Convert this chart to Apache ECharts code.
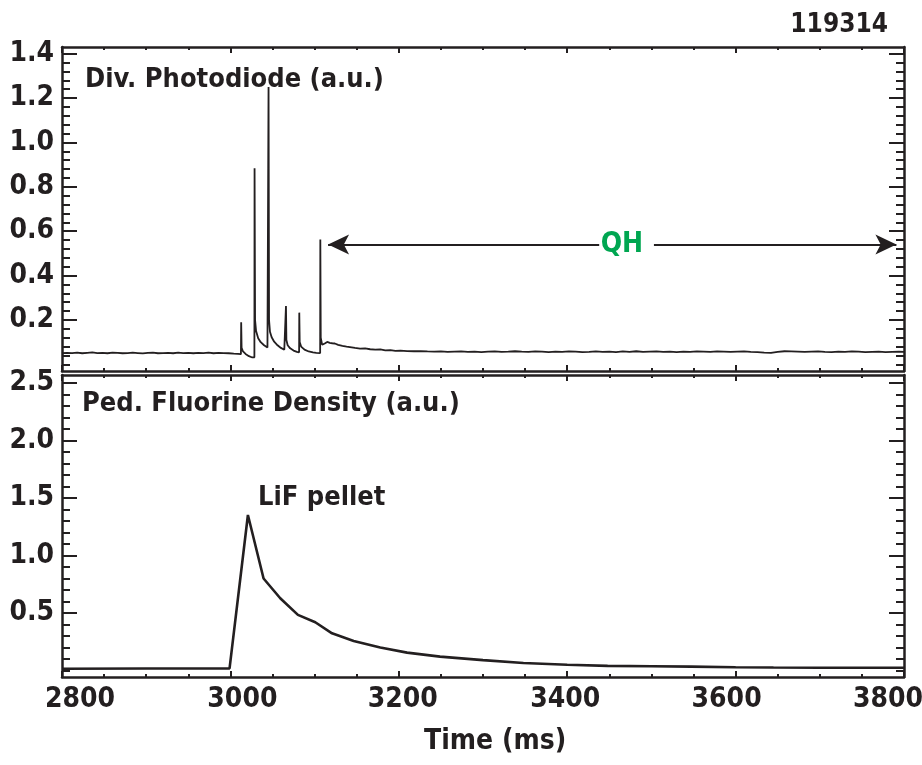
<!DOCTYPE html>
<html><head><meta charset="utf-8">
<script src="https://cdn.jsdelivr.net/npm/echarts@6/dist/echarts.min.js"></script>
<style>html,body{margin:0;padding:0;background:#fff}#c{width:922px;height:765px}</style>
</head><body><div id="c"></div>
<script>
const FONT = '"Liberation Sans Narrow","DejaVu Sans Condensed","Arial Narrow",sans-serif';
const INK = '#231f20';
const GREEN = '#00a651';

// ---- data ----
const xTicks = [2800, 3000, 3200, 3400, 3600, 3800];
const xTickLabelShift = [18, 12, 4, -2, -9, -16];   // label nudges as in the original figure
const topYTicks = [0.2, 0.4, 0.6, 0.8, 1.0, 1.2, 1.4];
const botYTicks = [0.5, 1.0, 1.5, 2.0, 2.5];
const shotNumber = '119314';
const topTitle = 'Div. Photodiode (a.u.)';
const botTitle = 'Ped. Fluorine Density (a.u.)';
const pelletLabel = 'LiF pellet';
const xTitle = 'Time (ms)';
const qhLabel = 'QH';

const photoTime = [
  2800,2806,2812,2818,2824,2830,2836,2842,2848,2854,2860,2866,2872,2878,2884,2890,2896,2902,2908,2914,
  2920,2926,2932,2938,2944,2950,2956,2962,2968,2974,2980,2986,2992,2998,3004,3009,3012.5,3012.8,3013.3,3015,
  3018,3022,3026,3028.5,3028.7,3029.3,3030.5,3033,3036,3040,3044,3045.1,3045.3,3045.9,3047,3049,3052,3056,3060,3064,
  3065.8,3066,3066.5,3068,3071,3075,3079,3081.6,3081.8,3082.3,3084,3088,3093,3098,3102,3106.6,3106.8,3107.3,3109,3112,
  3115,3118,3121,3124,3128,3133,3138,3142,3148,3154,3160,3166,3172,3178,3184,3190,3196,3202,3210,3218,
  3226,3234,3242,3250,3258,3266,3274,3282,3290,3298,3306,3314,3322,3330,3338,3346,3354,3362,3370,3378,
  3386,3394,3402,3410,3418,3426,3434,3442,3450,3458,3466,3474,3482,3490,3498,3506,3514,3522,3530,3538,
  3546,3554,3562,3570,3578,3586,3594,3602,3610,3618,3626,3634,3642,3650,3658,3666,3674,3682,3690,3698,
  3706,3714,3722,3730,3738,3746,3754,3762,3770,3778,3786,3794,3800
];
const photoValue = [
  0.050,0.052,0.051,0.053,0.050,0.052,0.054,0.051,0.052,0.050,0.053,0.052,0.050,0.051,0.053,0.051,0.049,0.052,0.053,0.050,
  0.051,0.052,0.050,0.053,0.051,0.052,0.050,0.052,0.051,0.053,0.050,0.052,0.051,0.050,0.048,0.047,0.046,0.190,0.075,0.058,
  0.047,0.037,0.031,0.032,0.884,0.200,0.150,0.118,0.100,0.086,0.076,0.073,1.250,0.200,0.147,0.122,0.102,0.086,0.074,0.066,
  0.062,0.263,0.110,0.086,0.072,0.062,0.056,0.054,0.233,0.100,0.080,0.066,0.058,0.054,0.052,0.051,0.563,0.120,0.088,0.094,
  0.101,0.097,0.095,0.094,0.088,0.083,0.080,0.078,0.074,0.071,0.072,0.068,0.066,0.067,0.063,0.064,0.061,0.062,0.060,0.059,
  0.060,0.058,0.057,0.058,0.056,0.057,0.058,0.056,0.057,0.055,0.057,0.058,0.056,0.057,0.059,0.057,0.056,0.058,0.057,0.055,
  0.057,0.056,0.058,0.057,0.055,0.056,0.058,0.056,0.057,0.055,0.058,0.056,0.059,0.056,0.057,0.058,0.056,0.057,0.055,0.057,
  0.056,0.058,0.057,0.056,0.058,0.057,0.056,0.057,0.058,0.056,0.055,0.053,0.052,0.056,0.059,0.058,0.057,0.056,0.057,0.058,
  0.056,0.055,0.057,0.056,0.058,0.057,0.055,0.056,0.057,0.055,0.056,0.057,0.056
];

const fluorTime  = [2800, 2900, 2999, 3020.8, 3039.4, 3059.2, 3080.2, 3100.8, 3120.7, 3146.4, 3178, 3209.8, 3249, 3300, 3348, 3400, 3448, 3500, 3547, 3600, 3645, 3700, 3800];
const fluorValue = [0.015, 0.017, 0.018, 1.352, 0.800, 0.628, 0.483, 0.419, 0.323, 0.257, 0.199, 0.155, 0.120, 0.090, 0.065, 0.050, 0.040, 0.036, 0.033, 0.028, 0.025, 0.024, 0.024];

// QH arrow (data coordinates)
const qhY = 0.54;
const qhLeftArrow = [3116, 3438];
const qhRightArrow = [3503, 3791];
const qhTextX = 3465;

// ---- helpers ----
function minorList(step, from, to, majors) {
  const out = [];
  for (let v = from; v <= to + 1e-9; v += step) {
    const r = Math.round(v * 1000) / 1000;
    if (!majors.some(m => Math.abs(m - r) < 1e-6)) out.push(r);
  }
  return out;
}
const topYMinor = minorList(0.04, 0, 1.42, topYTicks);
const botYMinor = minorList(0.1, 0, 2.5, botYTicks);

const TOP = { min: -0.03, max: 1.43 };
const BOT = { min: -0.057, max: 2.57 };

function yAxesFor(grid, range, major, minor, digits) {
  const common = { type: 'value', gridIndex: grid, min: range.min, max: range.max, splitLine: { show: false } };
  const line = { show: true, onZero: false, lineStyle: { color: INK, width: 2.5 } };
  return [
    Object.assign({}, common, {
      position: 'left',
      axisLine: line,
      axisTick: { show: true, inside: true, length: 15, customValues: major, lineStyle: { color: INK, width: 2 } },
      axisLabel: { show: true, customValues: major, margin: 8, color: INK, fontFamily: FONT, fontWeight: 'bold', fontSize: 28,
        formatter: v => Number(v).toFixed(digits) }
    }),
    Object.assign({}, common, {
      position: 'left',
      axisLine: { show: false, onZero: false },
      axisTick: { show: true, inside: true, length: 8, customValues: minor, lineStyle: { color: INK, width: 2 } },
      axisLabel: { show: false }
    }),
    Object.assign({}, common, {
      position: 'right',
      axisLine: line,
      axisTick: { show: true, inside: true, length: 15, customValues: major, lineStyle: { color: INK, width: 2 } },
      axisLabel: { show: false }
    }),
    Object.assign({}, common, {
      position: 'right',
      axisLine: { show: false, onZero: false },
      axisTick: { show: true, inside: true, length: 8, customValues: minor, lineStyle: { color: INK, width: 2 } },
      axisLabel: { show: false }
    })
  ];
}

const xRich = {};
xTicks.forEach((t, i) => {
  const s = xTickLabelShift[i];
  xRich['p' + i] = { color: INK, fontFamily: FONT, fontWeight: 'bold', fontSize: 28,
    padding: s >= 0 ? [0, 0, 0, 2 * s] : [0, -2 * s, 0, 0] };
});

function xAxesFor(grid, withLabels) {
  const common = {
    type: 'value', gridIndex: grid, min: xTicks[0], max: xTicks[xTicks.length - 1], interval: xTicks[1] - xTicks[0],
    splitLine: { show: false },
    axisLine: { show: true, onZero: false, lineStyle: { color: INK, width: 2.5 } },
    axisTick: { show: true, inside: true, length: 6, lineStyle: { color: INK, width: 2 } },
    minorTick: { show: true, splitNumber: 4, length: 3, lineStyle: { color: INK, width: 2 } },
    minorSplitLine: { show: false }
  };
  return [
    Object.assign({}, common, {
      position: 'bottom',
      axisLabel: withLabels
        ? { show: true, margin: 9, hideOverlap: false, showMinLabel: true, showMaxLabel: true,
            color: INK, fontFamily: FONT, fontWeight: 'bold', fontSize: 28, rich: xRich,
            formatter: v => { const i = xTicks.indexOf(Math.round(v)); return i < 0 ? '' : '{p' + i + '|' + xTicks[i] + '}'; } }
        : { show: false }
    }),
    Object.assign({}, common, { position: 'top', axisLabel: { show: false } })
  ];
}

const textStyle = (size, color) => ({ fill: color || INK, font: 'bold ' + size + 'px ' + FONT });

const chart = echarts.init(document.getElementById('c'), null, { renderer: 'canvas' });
chart.setOption({
  animation: false,
  backgroundColor: '#fff',
  grid: [
    { left: 62, right: 18, top: 47, height: 324, containLabel: false, outerBoundsMode: 'none' },
    { left: 62, right: 18, top: 375, height: 302, containLabel: false, outerBoundsMode: 'none' }
  ],
  xAxis: [].concat(xAxesFor(0, false), xAxesFor(1, true)),
  yAxis: [].concat(
    yAxesFor(0, TOP, topYTicks, topYMinor, 1),
    yAxesFor(1, BOT, botYTicks, botYMinor, 1)
  ),
  series: [
    {
      type: 'line', xAxisIndex: 0, yAxisIndex: 0, showSymbol: false, symbol: 'none',
      lineStyle: { color: INK, width: 1.8 },
      data: photoTime.map((t, i) => [t, photoValue[i]]),
      markLine: {
        silent: true, animation: false,
        symbolSize: [15, 21],
        lineStyle: { color: INK, width: 2, type: 'solid' },
        label: { show: false },
        data: [
          [{ coord: [qhLeftArrow[0], qhY], symbol: 'arrow' }, { coord: [qhLeftArrow[1], qhY], symbol: 'none' }],
          [{ coord: [qhRightArrow[0], qhY], symbol: 'none' }, { coord: [qhRightArrow[1], qhY], symbol: 'arrow' }]
        ]
      },
      markPoint: {
        silent: true, animation: false,
        data: [{ coord: [qhTextX, qhY], symbol: 'circle', symbolSize: 0,
          label: { show: true, position: 'inside', formatter: qhLabel, color: GREEN, fontFamily: FONT, fontWeight: 'bold', fontSize: 28 } }]
      }
    },
    {
      type: 'line', xAxisIndex: 2, yAxisIndex: 4, showSymbol: false, symbol: 'none',
      lineStyle: { color: INK, width: 2.6 },
      data: fluorTime.map((t, i) => [t, fluorValue[i]])
    }
  ],
  graphic: [
    { type: 'text', right: 34, top: 12, style: Object.assign(textStyle(26), { text: shotNumber }) },
    { type: 'text', left: 85, top: 66, style: Object.assign(textStyle(27), { text: topTitle }) },
    { type: 'text', left: 82, top: 390, style: Object.assign(textStyle(27), { text: botTitle }) },
    { type: 'text', left: 258, top: 484, style: Object.assign(textStyle(27), { text: pelletLabel }) },
    { type: 'text', left: 424, top: 728, style: Object.assign(textStyle(28), { text: xTitle }) }
  ]
});
</script>
</body></html>
